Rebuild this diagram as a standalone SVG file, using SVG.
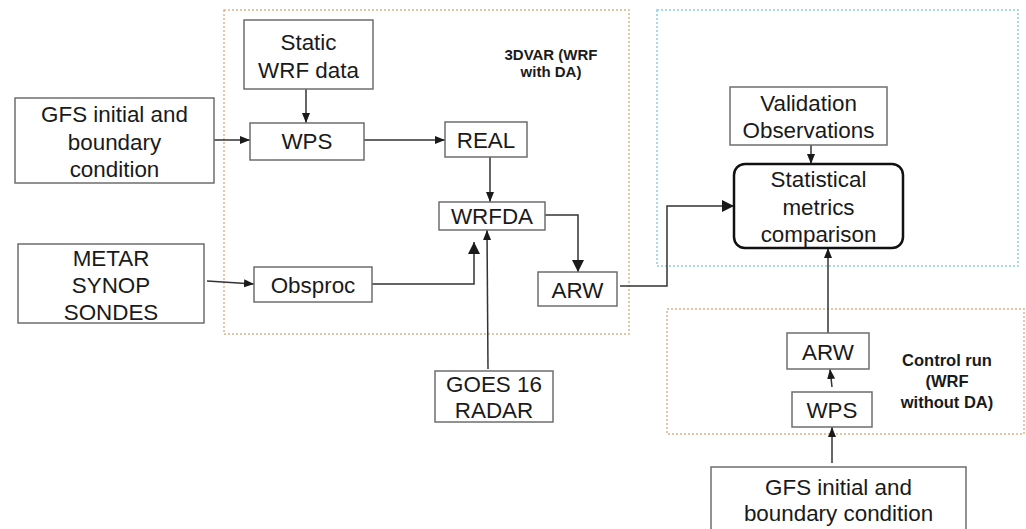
<svg xmlns="http://www.w3.org/2000/svg" width="1026" height="529" viewBox="0 0 1026 529">
<defs>
<style>
.box{fill:#fff;stroke:#6e6e6e;stroke-width:1.5}
.t{font-family:"Liberation Sans",Arial,sans-serif;font-size:22.4px;fill:#1a1a1a;text-anchor:middle}
.b{font-family:"Liberation Sans",Arial,sans-serif;font-weight:bold;fill:#1a1a1a;text-anchor:middle}
.c{fill:none;stroke:#333;stroke-width:1.5}
.grp{fill:none;stroke-width:1.5;stroke-dasharray:2 2}
</style>
<marker id="ah" viewBox="0 0 10 10" refX="10" refY="5" markerWidth="10" markerHeight="10" markerUnits="userSpaceOnUse" orient="auto"><path d="M0,1 L10,5 L0,9 Z" fill="#1a1a1a"/></marker>
<marker id="ahL" viewBox="0 0 10 10" refX="10" refY="5" markerWidth="12" markerHeight="14" markerUnits="userSpaceOnUse" orient="auto"><path d="M0,0 L10,5 L0,10 Z" fill="#1a1a1a"/></marker>
</defs>
<rect width="1026" height="529" fill="#fff"/>
<g id="groups">
<rect class="grp" x="224" y="10" width="405" height="324" stroke="#ddb48a"/>
<rect class="grp" x="657" y="10" width="361" height="256" stroke="#8ccfe0"/>
<rect class="grp" x="667" y="309" width="357" height="125" stroke="#ddb48a"/>
</g>
<g id="labels">
<text class="b" font-size="15" x="551" y="60">3DVAR (WRF</text>
<text class="b" font-size="15" x="551" y="77">with DA)</text>
<text class="b" font-size="16.5" x="947" y="366">Control run</text>
<text class="b" font-size="16.5" x="947" y="387">(WRF</text>
<text class="b" font-size="16.5" x="947" y="408">without DA)</text>
</g>
<g id="connectors">
<path class="c" d="M214,140 H250" marker-end="url(#ah)"/>
<path class="c" d="M306,89 V123" marker-end="url(#ah)"/>
<path class="c" d="M364,140 H445" marker-end="url(#ah)"/>
<path class="c" d="M490,157 V202" marker-end="url(#ah)"/>
<path class="c" d="M207,281 L254,284" marker-end="url(#ah)"/>
<path class="c" d="M372,284 H474 V242" marker-end="url(#ahL)"/>
<path class="c" d="M488,369 L487,230" marker-end="url(#ah)"/>
<path class="c" d="M545,215 H578 V272" marker-end="url(#ahL)"/>
<path class="c" d="M620,286 H667 V206 H734" marker-end="url(#ahL)"/>
<path class="c" d="M811,145 V164" marker-end="url(#ah)"/>
<path class="c" d="M828,333 V248" marker-end="url(#ah)"/>
<path class="c" d="M832,387 L830,369" marker-end="url(#ah)"/>
<path class="c" d="M832,463 V427" marker-end="url(#ah)"/>
</g>
<g id="gfs1"><rect class="box" x="15" y="98" width="199" height="85"/>
<text class="t" x="114.5" y="122">GFS initial and</text>
<text class="t" x="114.5" y="150">boundary</text>
<text class="t" x="114.5" y="177">condition</text></g>
<g id="static"><rect class="box" x="244" y="20" width="129" height="69"/>
<text class="t" x="308.5" y="50">Static</text>
<text class="t" x="308.5" y="78">WRF data</text></g>
<g id="wps1"><rect class="box" x="250" y="123" width="114" height="37"/>
<text class="t" x="307" y="149">WPS</text></g>
<g id="real"><rect class="box" x="445" y="122" width="82" height="35"/>
<text class="t" x="486" y="148">REAL</text></g>
<g id="wrfda"><rect class="box" x="439" y="202" width="106" height="28"/>
<text class="t" x="492" y="224">WRFDA</text></g>
<g id="metar"><rect class="box" x="18" y="244" width="186" height="79"/>
<text class="t" x="111" y="266">METAR</text>
<text class="t" x="111" y="293">SYNOP</text>
<text class="t" x="111" y="320">SONDES</text></g>
<g id="obsproc"><rect class="box" x="254" y="267" width="118" height="35"/>
<text class="t" x="313" y="293">Obsproc</text></g>
<g id="arw1"><rect class="box" x="538" y="272" width="79" height="34"/>
<text class="t" x="577.5" y="298">ARW</text></g>
<g id="goes"><rect class="box" x="435" y="371" width="118" height="51"/>
<text class="t" x="494" y="392">GOES 16</text>
<text class="t" x="494" y="418">RADAR</text></g>
<g id="validation"><rect class="box" x="730" y="87" width="157" height="58"/>
<text class="t" x="808.5" y="111">Validation</text>
<text class="t" x="808.5" y="138">Observations</text></g>
<g id="stats"><rect x="734" y="164" width="169" height="84" rx="11" fill="#fff" stroke="#111" stroke-width="2.5"/>
<text class="t" x="818.5" y="187">Statistical</text>
<text class="t" x="818.5" y="215">metrics</text>
<text class="t" x="818.5" y="242">comparison</text></g>
<g id="arw2"><rect class="box" x="787" y="333" width="82" height="36"/>
<text class="t" x="828" y="360">ARW</text></g>
<g id="wps2"><rect class="box" x="792" y="392" width="80" height="35"/>
<text class="t" x="832" y="418">WPS</text></g>
<g id="gfs2"><rect class="box" x="711" y="467" width="255" height="70"/>
<text class="t" x="838.5" y="495">GFS initial and</text>
<text class="t" x="838.5" y="521">boundary condition</text></g>
</svg>
